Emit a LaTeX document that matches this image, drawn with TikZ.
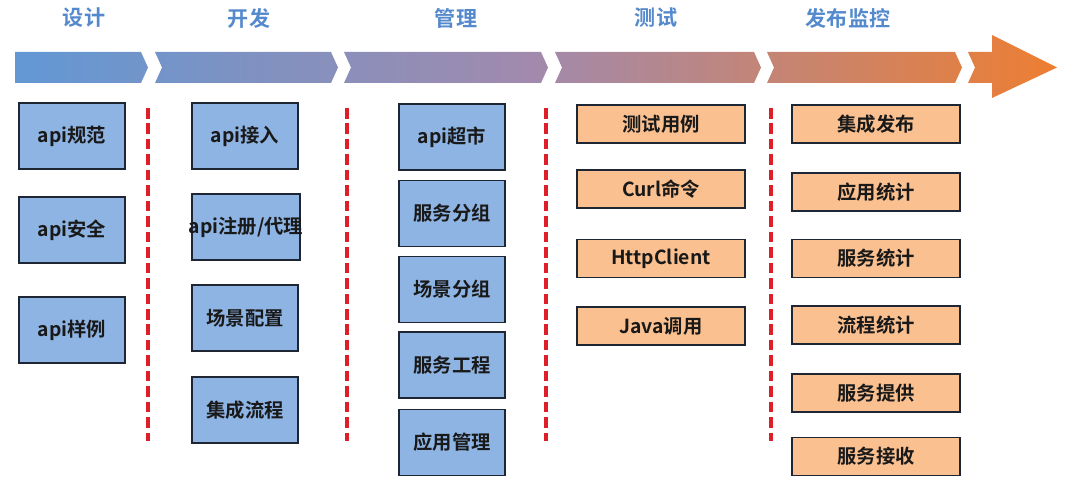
\documentclass[tikz,border=0pt]{standalone}
\usepackage{fontspec}
\setmainfont{Noto Sans CJK SC}[BoldFont={Noto Sans CJK SC Bold}]
\usetikzlibrary{positioning}

\definecolor{bandblue}{RGB}{98,152,212}
\definecolor{bandmid}{RGB}{162,138,172}
\definecolor{bandorange}{RGB}{237,126,50}
\definecolor{headblue}{RGB}{84,138,205}
\definecolor{boxblue}{RGB}{142,180,227}
\definecolor{boxorange}{RGB}{250,192,144}
\definecolor{boxline}{RGB}{30,38,52}
\definecolor{sepred}{RGB}{222,30,40}

\begin{document}
\begin{tikzpicture}[x=0.02cm,y=-0.02cm,
  phase/.style={text=headblue,font=\bfseries\fontsize{12}{14}\selectfont},
  box/.style={draw=boxline,line width=1pt,inner sep=0pt,text=black!90,font=\bfseries\fontsize{11}{13}\selectfont},
  bluebox/.style={box,fill=boxblue,minimum width=2.12cm,minimum height=1.32cm},
  orangebox/.style={box,fill=boxorange,minimum width=3.36cm,minimum height=0.76cm},
  sepline/.style={draw=sepred,line width=2.2pt,dash pattern=on 6pt off 2.8pt}]
  \useasboundingbox (0,0) rectangle (1080,483);

  % phase band
  \begin{scope}
    \clip (15,52) -- (141,52) -- (148,67.5) -- (141,83) -- (15,83) -- cycle;
    \shade[left color=bandblue,right color=bandorange,middle color=bandmid] (15,30) rectangle (1057,100);
  \end{scope}
  \foreach \a/\b in {155/331,344/541,555/754,767/955} {
    \begin{scope}
      \clip (\a,52) -- (\b,52) -- (\b+7,67.5) -- (\b,83) -- (\a,83) -- (\a+7,67.5) -- cycle;
      \shade[left color=bandblue,right color=bandorange,middle color=bandmid] (15,30) rectangle (1057,100);
    \end{scope}
  }
  \begin{scope}
    \clip (968,52) -- (992,52) -- (992,35) -- (1057,67.5) -- (992,98) -- (992,83) -- (968,83) -- (975,67.5) -- cycle;
    \shade[left color=bandblue,right color=bandorange,middle color=bandmid] (15,30) rectangle (1057,100);
  \end{scope}

  \node[phase] (design) at (84,18) {设计};
  \node[phase] (develop) at (249,18) {开发};
  \node[phase] (manage) at (456,18) {管理};
  \node[phase] (test) at (656,18) {测试};
  \node[phase] (publish) at (848,18) {发布监控};

  % separators
  \foreach \x in {148,347,546,771}
    \draw[sepline] (\x,108) -- (\x,441);

  % design
  \node[bluebox] (spec) at (72,136) {api规范};
  \node[bluebox] (secure) at (72,230) {api安全};
  \node[bluebox] (sample) at (72,330) {api样例};

  % develop
  \node[bluebox] (access) at (245,136) {api接入};
  \node[bluebox,minimum width=2.16cm] (register) at (246,227) {\makebox[2.16cm]{api注册/代理}};
  \node[bluebox] (sceneconf) at (245,318) {场景配置};
  \node[bluebox] (integflow) at (245,410) {集成流程};

  % manage
  \node[bluebox] (market) at (452,137) {api超市};
  \node[bluebox] (svcgroup) at (452,213.5) {服务分组};
  \node[bluebox] (scngroup) at (452,289.5) {场景分组};
  \node[bluebox] (svcproj) at (452,365) {服务工程};
  \node[bluebox] (appmgr) at (452,442.5) {应用管理};

  % test
  \node[orangebox] (testcase) at (661,124) {测试用例};
  \node[orangebox] (curl) at (661,189) {Curl命令};
  \node[orangebox] (httpclient) at (661,258.5) {HttpClient};
  \node[orangebox] (javacall) at (661,326) {Java调用};

  % publish & monitor
  \node[orangebox] (release) at (876,124) {集成发布};
  \node[orangebox] (appstat) at (876,192) {应用统计};
  \node[orangebox] (svcstat) at (876,258.5) {服务统计};
  \node[orangebox] (flowstat) at (876,325) {流程统计};
  \node[orangebox] (provide) at (876,393) {服务提供};
  \node[orangebox] (receive) at (876,456.5) {服务接收};
\end{tikzpicture}
\end{document}
